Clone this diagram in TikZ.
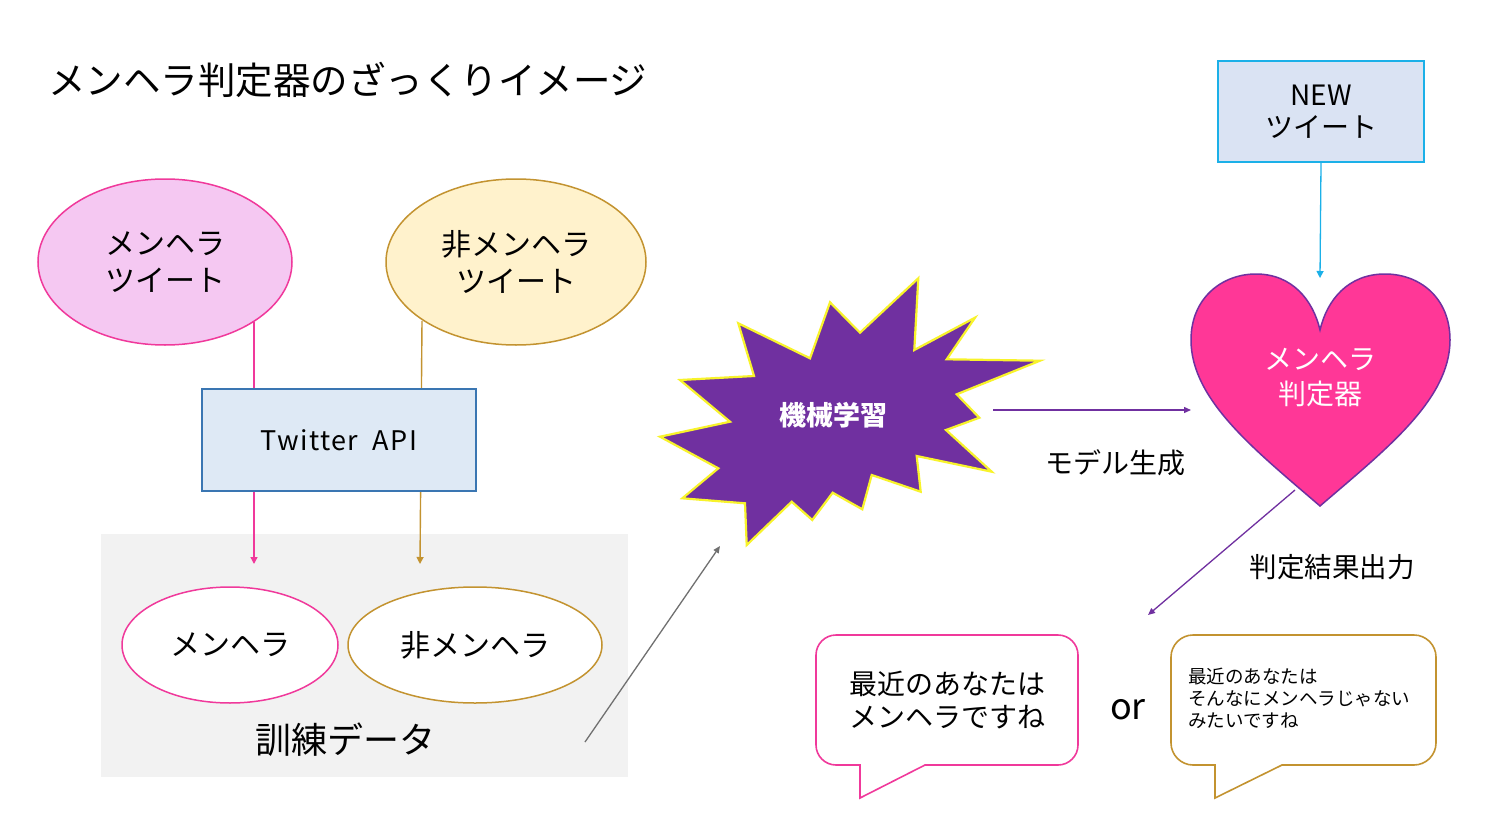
\documentclass[tikz,border=0pt]{standalone}
\usepackage{fontspec}
\setmainfont{Noto Sans CJK JP}
\usetikzlibrary{shapes.geometric,arrows.meta}
\definecolor{pinkS}{HTML}{F0399B}
\definecolor{pinkF}{HTML}{F5C8F2}
\definecolor{goldS}{HTML}{C39330}
\definecolor{goldF}{HTML}{FFF2CC}
\definecolor{apiF}{HTML}{DEE9F5}
\definecolor{apiS}{HTML}{3A76B2}
\definecolor{greyF}{HTML}{F2F2F2}
\definecolor{purp}{HTML}{7030A0}
\definecolor{yel}{HTML}{F8F32B}
\definecolor{heartF}{HTML}{FF3797}
\definecolor{newF}{HTML}{DAE3F3}
\definecolor{cyanS}{HTML}{1BB0E8}
\definecolor{arrgrey}{HTML}{707070}
\newcommand{\fs}[2]{\fontsize{#1pt}{#2pt}\selectfont}
\begin{document}
\begin{tikzpicture}[x=1pt,y=-1pt,
  oval/.style={ellipse, inner sep=0pt, line width=1.5pt, align=center},
  boxnode/.style={rectangle, inner sep=0pt, line width=1.5pt, align=center},
  conn/.style={line width=1.4pt, -{Triangle[width=7pt,length=7pt]}},
  lbl/.style={inner sep=0pt, align=center},
  bubble/.style={line width=1.6pt, fill=white, line join=miter}]
\useasboundingbox (0,0) rectangle (1486,832);
\fill[white] (0,0) rectangle (1486,832);

% title
\node[lbl, anchor=west, font=\fs{37.5}{40}] (title) at (48,80) {メンヘラ判定器のざっくりイメージ};

% training data background
\node[rectangle, fill=greyF, inner sep=0pt, minimum width=527pt, minimum height=243pt, anchor=north west] (train) at (101,534) {};
\node[lbl, font=\fs{36}{40}] (trainlbl) at (345,740) {訓練データ};

% source tweets
\node[oval, draw=pinkS, fill=pinkF, minimum width=254pt, minimum height=166pt, font=\fs{30}{37}] (mtw) at (165,262) {メンヘラ\\ツイート};
\node[oval, draw=goldS, fill=goldF, minimum width=260pt, minimum height=166pt, font=\fs{30}{37}] (ntw) at (516,262) {非メンヘラ\\ツイート};

% connectors through API
\coordinate (mtop) at (254,322);
\coordinate (mbot) at (254,564);
\coordinate (ntop) at (422,321);
\coordinate (nbot) at (420,564);
\draw[conn, pinkS] (mtop) -- (mbot);
\draw[conn, goldS] (ntop) -- (nbot);

\node[boxnode, draw=apiS, fill=apiF, minimum width=274pt, minimum height=102pt, font=\fs{27}{30}\addfontfeature{LetterSpace=5}] (api) at (339,440) {Twitter\ \ API};

% training ellipses
\node[oval, draw=pinkS, fill=white, minimum width=216pt, minimum height=116pt, font=\fs{30}{36}] (mtr) at (230,645) {メンヘラ};
\node[oval, draw=goldS, fill=white, minimum width=254pt, minimum height=116pt, font=\fs{30}{36}] (ntr) at (475,645) {非メンヘラ};

% arrow to machine learning
\coordinate (trOut) at (585,742);
\coordinate (mlIn) at (720,546);
\draw[line width=1.3pt, arrgrey, -{Triangle[width=6pt,length=7pt]}] (trOut) -- (mlIn);

% starburst
\draw[fill=purp, draw=yel, line width=2.2pt, line join=miter]
  (918.3,278.3) -- (860,332.7) -- (830,302.3) -- (810,358.3) -- (738.3,323.3)
  -- (754,376) -- (680,380) -- (730,421.7) -- (660,436.7) -- (718.3,468.3)
  -- (682.3,498.3) -- (745,503.3) -- (746.7,545) -- (791.7,501.7) -- (812.3,520)
  -- (832.7,492.7) -- (862.3,509.3) -- (871.7,475) -- (920.7,491.7) -- (916.7,456)
  -- (991.7,471.7) -- (946,430) -- (979.3,417.7) -- (956.7,394.3) -- (1040,360.7)
  -- (946.7,359.3) -- (975,317.7) -- (914.3,350) -- cycle;
\node[lbl, text=white, font=\fs{27}{30}\bfseries] (ml) at (833,415) {機械学習};

% NEW tweet
\node[boxnode, draw=cyanS, fill=newF, minimum width=206pt, minimum height=101pt, font=\fs{28}{32}] (new) at (1321,111.5) {NEW\\ツイート};

% heart
\draw[fill=heartF, draw=purp, line width=1.5pt]
  (1320,506) .. controls (1255,450) and (1191,400) .. (1191,340)
  .. controls (1191,298) and (1222,274) .. (1256,274)
  .. controls (1292,274) and (1313,300) .. (1320,330)
  .. controls (1327,300) and (1348,274) .. (1385,274)
  .. controls (1420,274) and (1450,298) .. (1450,340)
  .. controls (1450,400) and (1385,450) .. (1320,506) -- cycle;
\node[lbl, text=white, font=\fs{28}{35}] (judge) at (1320,378) {メンヘラ\\判定器};
\coordinate (heartTop) at (1320,278);
\coordinate (heartL) at (1191,410);
\coordinate (heartBot) at (1295,490);
\coordinate (mlR) at (993,410);
\coordinate (resEnd) at (1148,615);

\draw[conn, cyanS, line width=1.3pt] (new.south) -- (heartTop);
\draw[line width=1.3pt, purp, -{Triangle[width=6pt,length=7pt]}] (mlR) -- (heartL);
\draw[line width=1.3pt, purp, -{Triangle[width=6pt,length=7pt]}] (heartBot) -- (resEnd);
\node[lbl, font=\fs{28}{32}] (gen) at (1115,463) {モデル生成};
\node[lbl, font=\fs{27.5}{32}] (out) at (1332,567) {判定結果出力};

% bubbles
\draw[bubble, draw=pinkS]
  (860,798) -- (860,765) -- (836,765) .. controls (825,765) and (816,756) .. (816,745)
  -- (816,655) .. controls (816,644) and (825,635) .. (836,635)
  -- (1058,635) .. controls (1069,635) and (1078,644) .. (1078,655)
  -- (1078,745) .. controls (1078,756) and (1069,765) .. (1058,765)
  -- (925,765) -- cycle;
\node[lbl, font=\fs{28}{33}] (b1) at (947,700) {最近のあなたは\\メンヘラですね};
\node[lbl, font=\fs{36}{40}] (or) at (1128,710) {or};
\draw[bubble, draw=goldS]
  (1215,798) -- (1215,765) -- (1193,765) .. controls (1181,765) and (1171,755) .. (1171,743)
  -- (1171,657) .. controls (1171,645) and (1181,635) .. (1193,635)
  -- (1414,635) .. controls (1426,635) and (1436,645) .. (1436,657)
  -- (1436,743) .. controls (1436,755) and (1426,765) .. (1414,765)
  -- (1282,765) -- cycle;
\node[lbl, anchor=west, align=left, font=\fs{18.5}{22}] (b2) at (1188,698) {最近のあなたは\\そんなにメンヘラじゃない\\みたいですね};
\end{tikzpicture}
\end{document}
